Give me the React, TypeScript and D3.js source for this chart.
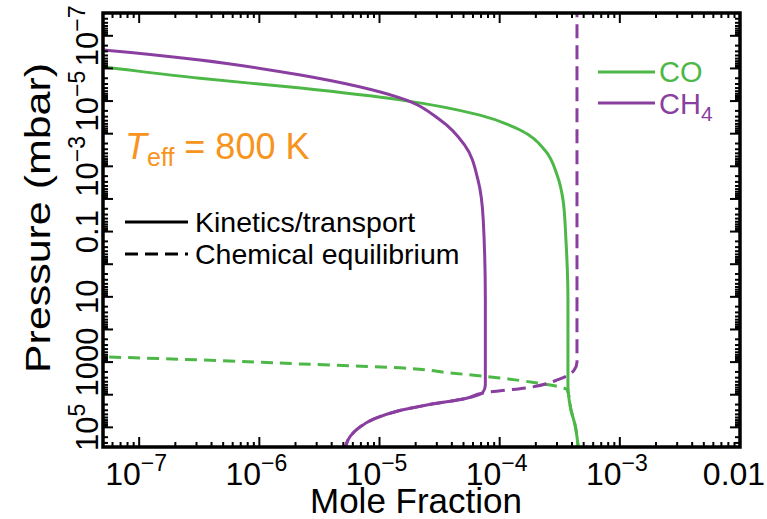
import React from 'react';
import * as d3 from 'd3';

// ---- Data (pressure in mbar, mole fraction) ----
const xTickValues = [1e-7, 1e-6, 1e-5, 1e-4, 1e-3, 1e-2];
const xTickBase = ['10', '10', '10', '10', '10', '0.01'];
const xTickExp = ['−7', '−6', '−5', '−4', '−3', ''];
const yTickValues = [1e5, 1e3, 10, 0.1, 1e-3, 1e-5, 1e-7];
const yTickBase = ['10', '1000', '10', '0.1', '10', '10', '10'];
const yTickExp = ['5', '', '', '', '−3', '−5', '−7'];

const coKinP = [8.1e-7, 9.0e-7, 2.0e-6, 4.0e-6, 9.2e-6, 2.7e-5, 7.7e-5, 3.2e-4, 1.8e-3, 0.011, 0.18, 12.5, 5000, 8000, 2.9e4, 8.5e4, 4e5, 6e5];
const coKinX = [3.9e-8, 5.0e-8, 3.2e-7, 2.2e-6, 1.48e-5, 6.85e-5, 1.48e-4, 2.38e-4, 3.0e-4, 3.37e-4, 3.56e-4, 3.7e-4, 3.7e-4, 3.72e-4, 3.92e-4, 4.24e-4, 4.5e-4, 4.55e-4];

const ch4KinP = [2.5e-7, 2.7e-7, 5.5e-7, 1.6e-6, 8.0e-6, 3.8e-5, 2.2e-4, 2.6e-3, 0.044, 12.5, 5000, 8800, 1.3e4, 2.0e4, 3.2e4, 5.5e4, 1.0e5, 1.9e5, 4e5, 6e5];
const ch4KinX = [3.9e-8, 5.0e-8, 3.2e-7, 2.2e-6, 1.48e-5, 3.2e-5, 5.1e-5, 6.6e-5, 7.3e-5, 7.6e-5, 7.6e-5, 7.2e-5, 5.2e-5, 2.6e-5, 1.4e-5, 9.0e-6, 6.8e-6, 5.7e-6, 5.2e-6, 5.1e-6];

const coEqP = [680, 695, 860, 1140, 1500, 2150, 3060, 4360, 5800, 7100, 2.9e4, 8.5e4, 4e5, 6e5];
const coEqX = [3.9e-8, 5.0e-8, 3.2e-7, 2.2e-6, 1.48e-5, 3.9e-5, 1.0e-4, 2.05e-4, 3.2e-4, 3.65e-4, 3.92e-4, 4.24e-4, 4.5e-4, 4.55e-4];

const ch4EqP = [1e-8, 1000, 1800, 3400, 6000, 8800, 1.3e4, 2.0e4, 3.2e4, 5.5e4, 1.0e5, 1.9e5, 4e5, 6e5];
const ch4EqX = [4.4e-4, 4.4e-4, 4.15e-4, 3.1e-4, 1.75e-4, 7.3e-5, 5.2e-5, 2.6e-5, 1.4e-5, 9.0e-6, 6.8e-6, 5.7e-6, 5.2e-6, 5.1e-6];

const GREEN = '#4DB848';
const PURPLE = '#8A3FA0';
const ORANGE = '#F7941D';
const FONT = "'Liberation Sans', Arial, Helvetica, sans-serif";

const W = 767, H = 519;
const L = 103, R = 740, T = 13, B = 447;

export default function App() {
  const x = d3.scaleLog().domain([5e-8, 1e-2]).range([L, R]);
  const y = d3.scaleLog().domain([2e-8, 4e5]).range([T, B]);

  const line = d3.line<[number, number]>()
    .x(d => x(d[1]))
    .y(d => y(d[0]))
    .curve(d3.curveMonotoneY);

  const zip = (p: number[], v: number[]) => p.map((pp, i) => [pp, v[i]] as [number, number]);

  const xMinor: { v: number; major: boolean }[] = [];
  for (let d = -8; d <= -2; d++) for (let k = 1; k <= 9; k++) {
    const v = k * Math.pow(10, d);
    if (v >= 5e-8 * 0.999 && v <= 1e-2 * 1.001) xMinor.push({ v, major: k === 1 });
  }
  const yMinor: { v: number; major: boolean }[] = [];
  for (let d = -8; d <= 5; d++) for (let k = 1; k <= 9; k++) {
    const v = k * Math.pow(10, d);
    if (v >= 2e-8 * 0.999 && v <= 4e5 * 1.001) yMinor.push({ v, major: k === 1 });
  }

  return (
    <div style={{ position: 'absolute', left: 0, top: 0 }}>
      <svg width={W} height={H} style={{ display: 'block', background: '#fff' }} fontFamily={FONT}>
        <defs>
          <clipPath id="plot"><rect x={L} y={T} width={R - L} height={B - T} /></clipPath>
        </defs>
        <g clipPath="url(#plot)" fill="none" strokeWidth={3}>
          <path d={line(zip(coEqP, coEqX)) || ''} stroke={GREEN} strokeDasharray="12,7" />
          <path d={line(zip(ch4EqP, ch4EqX)) || ''} stroke={PURPLE} strokeDasharray="14,7" />
          <path d={line(zip(coKinP, coKinX)) || ''} stroke={GREEN} />
          <path d={line(zip(ch4KinP, ch4KinX)) || ''} stroke={PURPLE} />
        </g>
        {/* ticks */}
        <g stroke="#000" strokeWidth={2}>
          {xMinor.map((t, i) => {
            const px = x(t.v); const len = t.major ? 10 : 5;
            return <g key={'xt' + i}>
              <line x1={px} x2={px} y1={B} y2={B - len} />
              <line x1={px} x2={px} y1={T} y2={T + len} />
            </g>;
          })}
          {yMinor.map((t, i) => {
            const py = y(t.v); const len = t.major ? 10 : 5;
            return <g key={'yt' + i}>
              <line x1={L} x2={L + len} y1={py} y2={py} />
              <line x1={R} x2={R - len} y1={py} y2={py} />
            </g>;
          })}
        </g>
        <rect x={L} y={T} width={R - L} height={B - T} fill="none" stroke="#000" strokeWidth={3.5} />
        {/* x tick labels */}
        {xTickValues.map((v, i) => (
          <text key={'xl' + i} x={i === 5 ? x(v) - 6 : x(v) - 3} y={485} textAnchor="middle" fontSize={32} fill="#000">
            {xTickBase[i]}
            {xTickExp[i] && <tspan fontSize={23} dy={-14}>{xTickExp[i]}</tspan>}
          </text>
        ))}
        {/* y tick labels */}
        {yTickValues.map((v, i) => (
          <text key={'yl' + i} transform={`translate(98,${y(v)}) rotate(-90)`} textAnchor="middle" fontSize={31} fill="#000">
            {yTickBase[i]}
            {yTickExp[i] && <tspan fontSize={23} dy={-13}>{yTickExp[i]}</tspan>}
          </text>
        ))}
        {/* axis titles */}
        <text x={416} y={513} textAnchor="middle" fontSize={35} fill="#000">Mole Fraction</text>
        <text transform={`translate(50,218) rotate(-90)`} textAnchor="middle" fontSize={35}
          textLength={310} lengthAdjust="spacingAndGlyphs" fill="#000">Pressure (mbar)</text>
        {/* Teff annotation */}
        <text x={125} y={159} fontSize={36} fill={ORANGE}>
          <tspan fontStyle="italic">T</tspan>
          <tspan fontSize={25} dy={7}>eff</tspan>
          <tspan dy={-7}> = 800 K</tspan>
        </text>
        {/* species legend */}
        <line x1={598} x2={655} y1={72} y2={72} stroke={GREEN} strokeWidth={3} />
        <text x={659} y={82} fontSize={29} fill={GREEN}>CO</text>
        <line x1={598} x2={655} y1={103} y2={103} stroke={PURPLE} strokeWidth={3} />
        <text x={659} y={114} fontSize={29} fill={PURPLE}>CH<tspan fontSize={21} dy={7}>4</tspan></text>
        {/* style legend */}
        <line x1={125} x2={188} y1={222} y2={222} stroke="#000" strokeWidth={3} />
        <text x={195} y={232} fontSize={28.5} fill="#000">Kinetics/transport</text>
        <line x1={125} x2={188} y1={254} y2={254} stroke="#000" strokeWidth={3} strokeDasharray="13,7" />
        <text x={195} y={264} fontSize={28.5} fill="#000">Chemical equilibrium</text>
      </svg>
    </div>
  );
}
